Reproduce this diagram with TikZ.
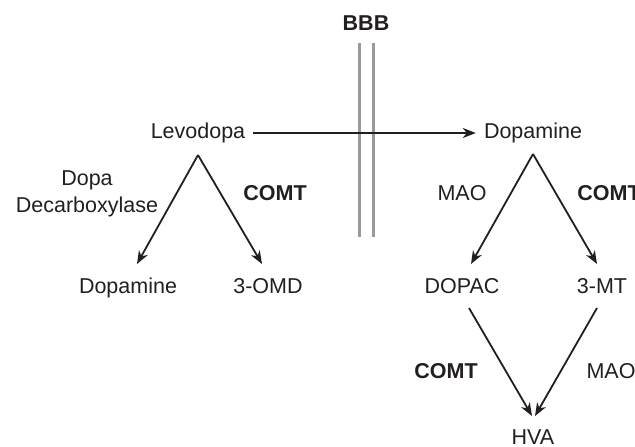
\documentclass[tikz,border=0pt]{standalone}
\usepackage{fontspec}
\setmainfont{Liberation Sans}
\usetikzlibrary{arrows.meta}
\definecolor{ink}{HTML}{231F20}
\definecolor{barrier}{HTML}{9A9A9A}
\begin{document}
\begin{tikzpicture}[x=1pt,y=-1pt,
  lbl/.style={inner sep=0pt,text height=15pt,text depth=0pt,anchor=center,text=ink,font=\fontsize{21.5}{25}\selectfont},
  enz/.style={lbl,font=\fontsize{21.5}{25}\selectfont\bfseries},
  arr/.style={draw=ink,line width=1.8pt,-{Stealth[length=13pt,width=10pt,inset=4pt]}},
  wall/.style={draw=barrier,line width=3pt}]
\useasboundingbox[fill=white] (0,0) rectangle (635,447);
% nodes
\node[enz] (bbb) at (366,23) {BBB};
\node[lbl] (levo) at (198,131) {Levodopa};
\node[lbl] (dopR) at (533,131) {Dopamine};
\node[lbl] (dd1) at (87,178) {Dopa};
\node[lbl] (dd2) at (87,205) {Decarboxylase};
\node[enz] (comtL) at (275,193) {COMT};
\node[lbl] (dopL) at (128,286) {Dopamine};
\node[lbl] (omd) at (268,286) {3-OMD};
\node[lbl] (maoT) at (462,193) {MAO};
\node[enz] (comtR) at (609,193) {COMT};
\node[lbl] (dopac) at (462,286) {DOPAC};
\node[lbl] (mt) at (602,286) {3-MT};
\node[enz] (comtB) at (446,371) {COMT};
\node[lbl] (maoB) at (611,371) {MAO};
\node[lbl] (hva) at (533,437) {HVA};
% blood-brain barrier
\draw[wall] ([shift={(-7,20)}]bbb.center) -- ([shift={(-7,214)}]bbb.center);
\draw[wall] ([shift={(7,20)}]bbb.center) -- ([shift={(7,214)}]bbb.center);
% connectors
\draw[arr] ([shift={(8,2)}]levo.east) -- ([shift={(-8,2)}]dopR.west);
\draw[arr] ([shift={(0,24)}]levo.center) -- ([shift={(9,-22)}]dopL.center);
\draw[arr] ([shift={(0,24)}]levo.center) -- ([shift={(-6,-22)}]omd.center);
\draw[arr] ([shift={(0,23)}]dopR.center) -- ([shift={(9,-22)}]dopac.center);
\draw[arr] ([shift={(0,23)}]dopR.center) -- ([shift={(-5,-22)}]mt.center);
\draw[arr] ([shift={(7,22)}]dopac.center) -- ([shift={(-1,-21)}]hva.center);
\draw[arr] ([shift={(-5,22)}]mt.center) -- ([shift={(2,-21)}]hva.center);
\end{tikzpicture}
\end{document}
